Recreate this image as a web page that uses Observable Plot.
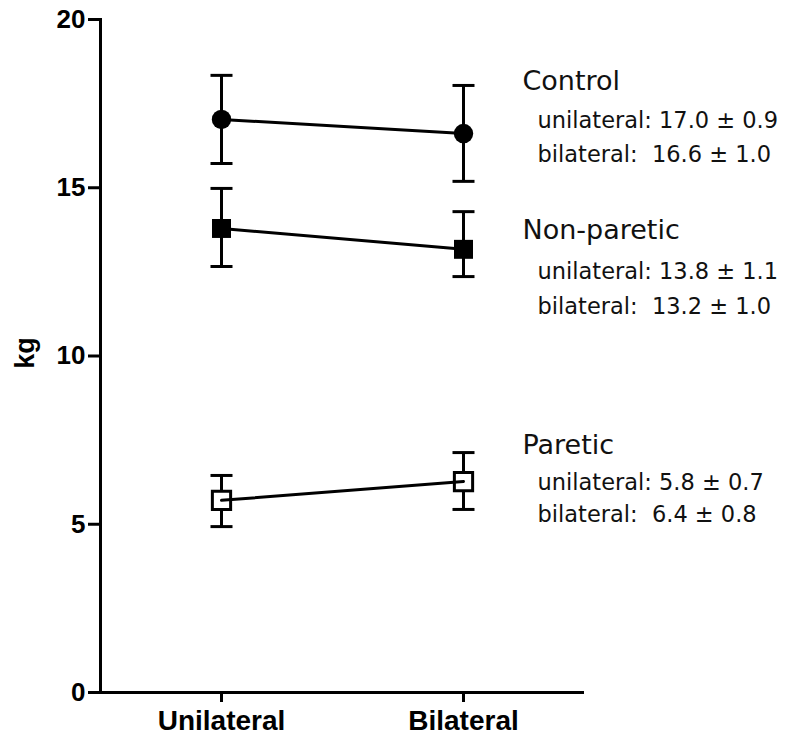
<!DOCTYPE html>
<html><head><meta charset="utf-8">
<script src="https://cdn.jsdelivr.net/npm/d3@7"></script>
<script src="https://cdn.jsdelivr.net/npm/@observablehq/plot@0.6"></script>
<style>
body{margin:0;background:#fff}
svg text{white-space:pre}
</style>
</head><body><div id="chart"></div>
<script>
// ---- data ----
const conditions = ["Unilateral", "Bilateral"];
const groups = ["Control", "Non-paretic", "Paretic"];
const controlMean = [17.03, 16.61];
const controlLow = [15.72, 15.19];
const controlHigh = [18.34, 18.04];
const nonpareticMean = [13.79, 13.17];
const nonpareticLow = [12.66, 12.36];
const nonpareticHigh = [14.98, 14.29];
const pareticMean = [5.71, 6.27];
const pareticLow = [4.93, 5.44];
const pareticHigh = [6.45, 7.13];
const yTicks = [0, 5, 10, 15, 20];
const yLabel = "kg";

// annotation texts (y given in data units, kg)
const titleY = [18.16, 13.73, 7.34];
const statLines = [
  ["unilateral: 17.0 \u00b1 0.9", "bilateral:  16.6 \u00b1 1.0"],
  ["unilateral: 13.8 \u00b1 1.1", "bilateral:  13.2 \u00b1 1.0"],
  ["unilateral: 5.8 \u00b1 0.7", "bilateral:  6.4 \u00b1 0.8"]
];
const statY = [[16.99, 15.99], [12.5, 11.46], [6.24, 5.29]];

// ---- tables built from arrays ----
const series = [
  {group: groups[0], mean: controlMean, low: controlLow, high: controlHigh},
  {group: groups[1], mean: nonpareticMean, low: nonpareticLow, high: nonpareticHigh},
  {group: groups[2], mean: pareticMean, low: pareticLow, high: pareticHigh}
];
const rows = series.flatMap(s => conditions.map((c, i) => ({
  group: s.group, condition: c, mean: s.mean[i], low: s.low[i], high: s.high[i]
})));
const titleRows = groups.map((g, i) => ({text: g, y: titleY[i]}));
const statRows = statLines.flatMap((lines, i) => lines.map((t, j) => ({text: t, y: statY[i][j]})));

const hline = {
  draw(ctx, size) {
    const h = Math.sqrt(size / Math.PI);
    ctx.moveTo(-h, 0);
    ctx.lineTo(h, 0);
  }
};

const chart = Plot.plot({
  width: 788,
  height: 742,
  marginLeft: 100,
  marginRight: 204,
  marginTop: 19,
  marginBottom: 50,
  style: {fontFamily: "'Liberation Sans', Arial, sans-serif", color: "black", background: "white"},
  x: {type: "point", domain: conditions, padding: 0.5},
  y: {domain: [0, 20]},
  marks: [
    Plot.frame({anchor: "left", strokeWidth: 3}),
    Plot.ruleY([0], {strokeWidth: 3}),
    Plot.axisY({ticks: yTicks, tickSize: 12, tickPadding: 3, fontSize: 26, fontWeight: "bold", strokeWidth: 3, label: null}),
    Plot.axisX({tickSize: 10, tickPadding: 8, fontSize: 28, fontWeight: "bold", strokeWidth: 3, label: null}),
    Plot.text([yLabel], {frameAnchor: "left", textAnchor: "middle", lineAnchor: "middle", rotate: -90, dx: -75, dy: -3, fontSize: 27, fontWeight: "bold", fill: "black"}),
    Plot.ruleX(rows, {x: "condition", y1: "low", y2: "high", strokeWidth: 3}),
    Plot.dot(rows, {x: "condition", y: "low", symbol: hline, r: 11, stroke: "black", strokeWidth: 3}),
    Plot.dot(rows, {x: "condition", y: "high", symbol: hline, r: 11, stroke: "black", strokeWidth: 3}),
    Plot.dot(rows.filter(d => d.group === "Control"), {x: "condition", y: "mean", symbol: "circle", r: 9.7, fill: "black"}),
    Plot.dot(rows.filter(d => d.group === "Non-paretic"), {x: "condition", y: "mean", symbol: "square", r: 10.7, fill: "black"}),
    Plot.dot(rows.filter(d => d.group === "Paretic"), {x: "condition", y: "mean", symbol: "square", r: 10.3, fill: "white", stroke: "black", strokeWidth: 3}),
    Plot.line(rows, {x: "condition", y: "mean", z: "group", stroke: "black", strokeWidth: 3}),
    Plot.text(titleRows, {x: () => conditions[1], y: "y", text: "text", dx: 59, textAnchor: "start", fontSize: 27, fontFamily: "'DejaVu Sans', sans-serif", fill: "#111"}),
    Plot.text(statRows, {x: () => conditions[1], y: "y", text: "text", dx: 74, textAnchor: "start", fontSize: 22.5, fontFamily: "'DejaVu Sans', sans-serif", fill: "#111"})
  ]
});
document.getElementById("chart").appendChild(chart);
</script>
</body></html>
